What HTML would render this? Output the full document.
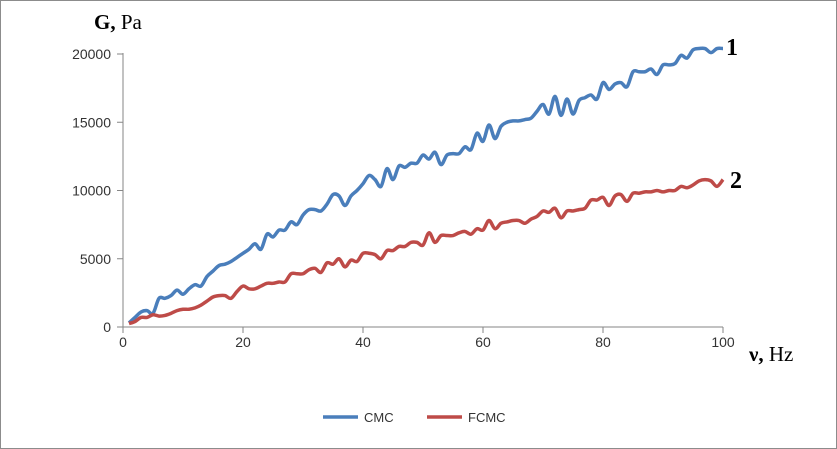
<!DOCTYPE html>
<html><head><meta charset="utf-8"><style>
body{margin:0;background:#fff}
svg{display:block;font-family:"Liberation Sans",sans-serif}
</style></head><body>
<svg width="837" height="449" viewBox="0 0 837 449">
<rect x="0.5" y="0.5" width="836" height="448" fill="#fff" stroke="#8c8c8c"/>
<g id="axes"></g>
<g id="series"></g>
<text x="94" y="29" font-family="Liberation Serif" font-size="21" font-weight="bold">G, <tspan font-weight="normal">Pa</tspan></text>
<text x="749" y="361" font-family="Liberation Serif" font-size="21" font-weight="bold">ν, <tspan font-weight="normal">Hz</tspan></text>
<text x="726" y="55" font-family="Liberation Serif" font-size="24" font-weight="bold">1</text>
<text x="730" y="188" font-family="Liberation Serif" font-size="24" font-weight="bold">2</text>
<g>
<line x1="323" y1="417" x2="358" y2="417" stroke="#4a7ebb" stroke-width="3.5"/>
<text x="364" y="422" font-size="13" fill="#333">CMC</text>
<line x1="427" y1="417" x2="462" y2="417" stroke="#be4b48" stroke-width="3.5"/>
<text x="468" y="422" font-size="13" fill="#333">FCMC</text>
</g>
</svg>
<script>
const xTicks=[0,20,40,60,80,100];
const yTicks=[0,5000,10000,15000,20000];
const cmc=[300,700,1100,1200,1000,2100,2100,2300,2700,2400,2800,3100,3000,3700,4100,4500,4600,4800,5100,5400,5700,6100,5700,6800,6600,7100,7100,7700,7500,8200,8600,8600,8500,9000,9700,9600,8900,9600,10000,10500,11100,10800,10300,11600,10800,11800,11700,12000,12000,12600,12300,12800,11900,12600,12700,12700,13200,13000,14200,13600,14800,13800,14700,15000,15100,15100,15200,15300,15800,16300,15600,16900,15500,16700,15600,16600,16800,17000,16700,17900,17400,17800,17900,17600,18700,18700,18700,18900,18500,19200,19200,19300,19900,19700,20300,20400,20400,20100,20400,20400];
const fcmc=[250,400,700,700,900,800,850,1000,1200,1300,1300,1400,1600,1900,2200,2300,2300,2100,2600,3000,2800,2800,3000,3200,3200,3300,3300,3900,3900,3900,4200,4300,4000,4700,4600,5000,4400,4900,4800,5400,5400,5300,5000,5600,5600,5900,5900,6200,6200,6000,6900,6200,6700,6700,6700,6900,7000,6800,7200,7100,7800,7200,7600,7700,7800,7800,7600,7900,8100,8500,8400,8700,8000,8500,8500,8600,8700,9300,9300,9500,8900,9600,9700,9200,9800,9800,9900,9900,10000,9900,10000,10000,10300,10200,10400,10700,10800,10700,10300,10800];
const NS='http://www.w3.org/2000/svg';
const X=v=>123+v*6, Y=v=>327-v*0.01365;
const ax=document.getElementById('axes');
function mk(t,a,p){const e=document.createElementNS(NS,t);for(const k in a)e.setAttribute(k,a[k]);p.appendChild(e);return e;}
let l=mk('line',{x1:123,y1:Y(20000)-1,x2:123,y2:327,stroke:'#868686'},ax);


l=mk('line',{x1:123,y1:327,x2:723,y2:327,stroke:'#868686'},ax);


yTicks.forEach(v=>{
 let t=mk('line',{x1:117,x2:123,y1:Y(v),y2:Y(v),stroke:'#868686'},ax);
 
 
 let s=mk('text',{x:111,y:Y(v)+5,'text-anchor':'end','font-size':'14',fill:'#333'},ax);s.textContent=v;
 
 
});
xTicks.forEach(v=>{
 let t=mk('line',{x1:X(v),x2:X(v),y1:327,y2:333,stroke:'#868686'},ax);
 
 
 let s=mk('text',{x:X(v),y:347,'text-anchor':'middle','font-size':'14',fill:'#333'},ax);s.textContent=v;
 
 
});
function path(arr){
 const p=arr.map((v,i)=>[X(i+1),Y(v)]);
 let d='M'+p[0][0]+','+p[0][1];
 for(let i=0;i<p.length-1;i++){
  const p0=p[Math.max(i-1,0)],p1=p[i],p2=p[i+1],p3=p[Math.min(i+2,p.length-1)];
  const c1=[p1[0]+(p2[0]-p0[0])/6,p1[1]+(p2[1]-p0[1])/6],c2=[p2[0]-(p3[0]-p1[0])/6,p2[1]-(p3[1]-p1[1])/6];
  d+=' C'+c1.join(',')+' '+c2.join(',')+' '+p2.join(',');
 }
 return d;
}
const sg=document.getElementById('series');
let a=mk('path',{d:path(cmc),fill:'none',stroke:'#4a7ebb','stroke-width':3.5,'stroke-linejoin':'round'},sg);


a=mk('path',{d:path(fcmc),fill:'none',stroke:'#be4b48','stroke-width':3.5,'stroke-linejoin':'round'},sg);


</script>
</body></html>
